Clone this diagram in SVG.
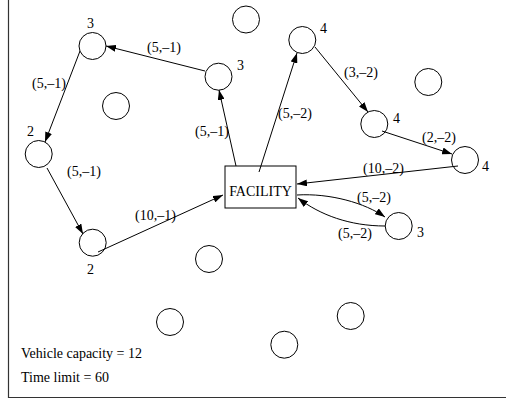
<svg xmlns="http://www.w3.org/2000/svg" width="506" height="400" viewBox="0 0 506 400">
  <style>
    .node { fill: #fff; stroke: #000; stroke-width: 1; }
    .t { font-family: "Liberation Serif", "Times New Roman", serif; font-size: 14px; fill: #000; }
    .edge { fill: none; stroke: #000; stroke-width: 1; marker-end: url(#arrow); }
  </style>
  <defs>
    <marker id="arrow" viewBox="0 0 10 7" refX="10" refY="3.5" markerWidth="10" markerHeight="7" markerUnits="userSpaceOnUse" orient="auto">
      <path d="M0,0 L10,3.5 L0,7 z" fill="#000"/>
    </marker>
  </defs>
  <rect width="506" height="400" fill="#fff"/>

  <!-- frame -->
  <path d="M8.5,0 V397.5 H506" fill="none" stroke="#333" stroke-width="1.2"/>

  <!-- customers -->
  <g id="n-a"><circle class="node" cx="92.5" cy="46" r="13.5"/><text class="t" x="87" y="28">3</text></g>
  <g id="n-b"><circle class="node" cx="218.5" cy="76.7" r="13.5"/><text class="t" x="237" y="70">3</text></g>
  <g id="n-c"><circle class="node" cx="116" cy="106" r="13.5"/></g>
  <g id="n-d"><circle class="node" cx="38.7" cy="154" r="13.5"/><text class="t" x="27" y="136">2</text></g>
  <g id="n-e"><circle class="node" cx="92.7" cy="242.7" r="13.5"/><text class="t" x="87" y="274">2</text></g>
  <g id="n-f"><circle class="node" cx="209" cy="259" r="13.5"/></g>
  <g id="n-g"><circle class="node" cx="170" cy="322" r="13.5"/></g>
  <g id="n-top"><circle class="node" cx="246" cy="19.5" r="13.5"/></g>
  <g id="n-h"><circle class="node" cx="302.3" cy="40" r="13.5"/><text class="t" x="320" y="33">4</text></g>
  <g id="n-i"><circle class="node" cx="428.3" cy="82" r="13.5"/></g>
  <g id="n-j"><circle class="node" cx="374.3" cy="124" r="13.5"/><text class="t" x="393" y="123">4</text></g>
  <g id="n-k"><circle class="node" cx="465" cy="160" r="13.5"/><text class="t" x="482" y="171">4</text></g>
  <g id="n-l"><circle class="node" cx="398.7" cy="226" r="13.5"/><text class="t" x="417" y="237">3</text></g>
  <g id="n-m"><circle class="node" cx="350.7" cy="316" r="13.5"/></g>
  <g id="n-n"><circle class="node" cx="284.3" cy="344.7" r="13.5"/></g>

  <!-- depot -->
  <g id="facility">
    <rect x="225" y="166" width="71" height="42" fill="#fff" stroke="#000" stroke-width="1"/>
    <text class="t" x="260.5" y="196" text-anchor="middle">FACILITY</text>
  </g>

  <!-- routes -->
  <g id="connectors">
    <path class="edge" d="M205,71 L106,46"/>
    <path class="edge" d="M80,51 L45,142"/>
    <path class="edge" d="M47,168 L83,234"/>
    <path class="edge" d="M98,252 L223,195"/>
    <path class="edge" d="M236,166 L219,90"/>
    <path class="edge" d="M259,172 L297,53"/>
    <path class="edge" d="M315,47 L368,112"/>
    <path class="edge" d="M382,131 L452,154"/>
    <path class="edge" d="M458,166 L297,184"/>
    <path class="edge" d="M297,195 C330,193 365,203 385,217"/>
    <path class="edge" d="M385,226 C350,226 320,215 298,198"/>
  </g>

  <!-- arc labels -->
  <g id="arc-labels">
    <text class="t" x="147" y="52">(5,–1)</text>
    <text class="t" x="32" y="88">(5,–1)</text>
    <text class="t" x="195" y="136">(5,–1)</text>
    <text class="t" x="67" y="176">(5,–1)</text>
    <text class="t" x="135" y="220">(10,–1)</text>
    <text class="t" x="278" y="118">(5,–2)</text>
    <text class="t" x="344" y="77">(3,–2)</text>
    <text class="t" x="422" y="142">(2,–2)</text>
    <text class="t" x="363" y="173">(10,–2)</text>
    <text class="t" x="357" y="202">(5,–2)</text>
    <text class="t" x="338" y="238">(5,–2)</text>
  </g>

  <!-- problem data -->
  <text class="t" x="21" y="358">Vehicle capacity = 12</text>
  <text class="t" x="21" y="382">Time limit = 60</text>
</svg>
